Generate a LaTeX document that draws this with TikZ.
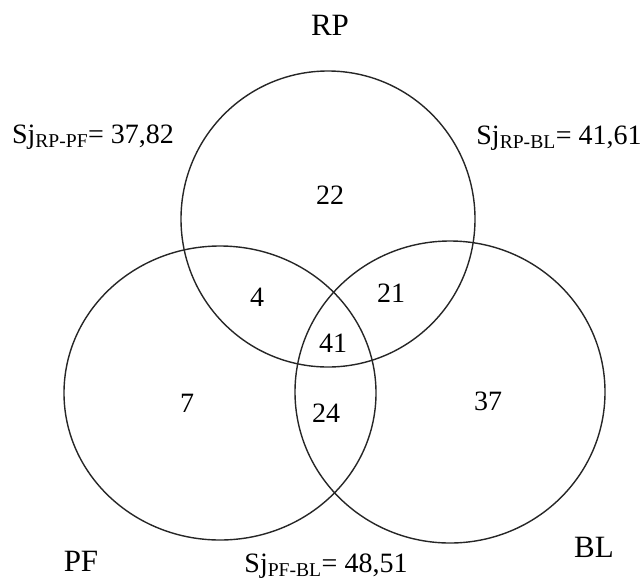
\documentclass[tikz,border=0pt]{standalone}
\usepackage{fontspec}
\setmainfont{Liberation Serif}
\tikzset{
  venn/.style={line width=1.4pt,black!85},
  count/.style={inner sep=0pt,anchor=center},
  setlabel/.style={inner sep=0pt,anchor=base},
  setname/.style={setlabel,font=\fontsize{31}{35}\selectfont},
}
\begin{document}
\begin{tikzpicture}[x=1pt,y=-1pt,font=\fontsize{28}{32}\selectfont]

	\useasboundingbox (0,0) rectangle (644,579); % same frame as the image
	
	\coordinate (RPc) at (328,219);
	\coordinate (PFc) at (220,393);
	\coordinate (BLc) at (450,392);
	
	% the three sets
	\draw[venn] (RPc) ellipse [x radius=147,y radius=148];
	\draw[venn] (PFc) ellipse [x radius=156,y radius=147];
	\draw[venn] (BLc) ellipse [x radius=155,y radius=151];
	
	% names of the sets
	\node[setname] (RP) at (330,35) {RP};
	\node[setname] (PF) at (81,571) {PF};
	\node[setname] (BL) at (594,557) {BL};
	
	% Sorensen indices
	\node[setlabel] (sjRPPF) at (93,143) {Sj\textsubscript{RP-PF}= 37,82};
	\node[setlabel] (sjRPBL) at (559,144) {Sj\textsubscript{RP-BL}= 41,61};
	\node[setlabel] (sjPFBL) at (326,572) {Sj\textsubscript{PF-BL}= 48,51};
	
	% counts in each region
	\node[count] (nRP) at (330,195) {22};
	\node[count] (nRPPF) at (257,297) {4};
	\node[count] (nRPBL) at (391,293) {21};
	\node[count] (nAll) at (333,343) {41};
	\node[count] (nPF) at (187,403) {7};
	\node[count] (nBL) at (488,401) {37};
	\node[count] (nPFBL) at (326,413) {24};

\end{tikzpicture}
\end{document}
